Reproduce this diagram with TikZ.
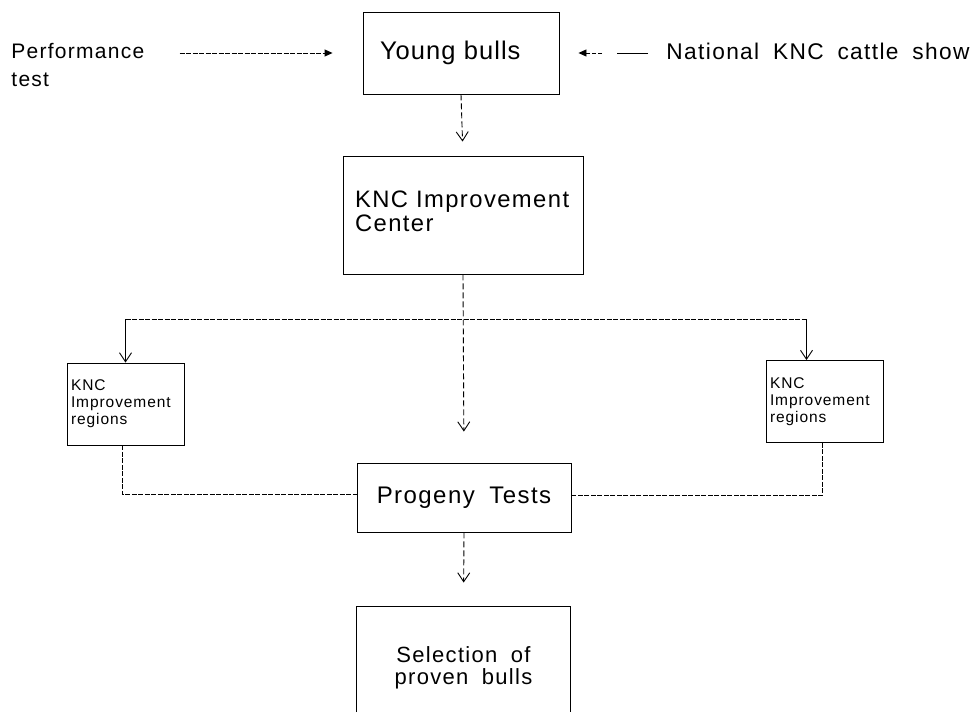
\documentclass[tikz,border=0pt]{standalone}
\usepackage{fontspec}
\setmainfont{Liberation Sans}
\newfontfamily\scanfont[LetterSpace=6,WordSpace=1.8]{Liberation Sans}
\newfontfamily\bigfont[LetterSpace=4,WordSpace=1.8]{Liberation Sans}
\usetikzlibrary{arrows.meta}

\begin{document}
\begin{tikzpicture}[x=1pt,y=-1pt,line width=0.9pt,
			big box/.style={rectangle,draw,inner sep=0pt},
			small box/.style={rectangle,draw,inner sep=0pt,minimum width=117pt,minimum height=82pt,
				text width=109pt,align=left,font=\scanfont\fontsize{15.5}{17}\selectfont},
			plain text/.style={inner sep=0pt},
			broken line/.style={dash pattern=on 5pt off 1.5pt},
			gap line/.style={dash pattern=on 6pt off 3pt},
			open tip/.style={-{Straight Barb[length=9pt,width=12pt]}},
			fill tip/.style={-{Triangle[length=8pt,width=7pt]}}]
			
			\useasboundingbox (0,0) rectangle (979,712);
			
			\node[big box,minimum width=196pt,minimum height=82pt,inner xsep=17pt,text width=162pt,align=left,
				font=\bigfont\fontsize{25.5}{28}\selectfont] (young) at (461,53) {Young bulls};
			\node[plain text,anchor=north west,align=left,font=\scanfont\fontsize{21}{28}\selectfont] (perf) at (11,43) {Performance\\test};
			\node[plain text,anchor=base west,font=\scanfont\fontsize{22.7}{26}\selectfont] (nat) at (666,59) {National KNC cattle show};
			\node[big box,minimum width=240pt,minimum height=118pt,text width=216pt,align=left,
				font=\scanfont\fontsize{23.8}{24}\selectfont] (center) at (463,215) {KNC Improvement\\Center\\[-16pt]\mbox{}};
			\node[small box] (leftreg) at (125.5,404) {KNC\\Improvement\\regions};
			\node[small box] (rightreg) at (824.5,401.5) {KNC\\Improvement\\regions};
			\node[big box,minimum width=214pt,minimum height=69pt,font=\scanfont\fontsize{24}{28}\selectfont] (progeny) at (464,497.5) {Progeny Tests};
			\node[plain text,minimum width=213pt,minimum height=122pt,align=center,
				font=\scanfont\fontsize{22}{22}\selectfont] (select) at (463.5,668) {Selection of\\proven bulls};
			
			\coordinate (bottom) at (0,712);
			\coordinate (branch) at (462,319);
			\coordinate (selBL) at (select.west |- bottom);
			\coordinate (selBR) at (select.east |- bottom);
			
			% inputs of the young bulls
			\draw[broken line,fill tip,shorten <=35pt,shorten >=30pt] (perf.east |- young.west) -- (young.west);
			\draw[fill tip,dash pattern=on 31pt off 15pt on 4pt off 2pt on 4pt off 2pt on 4pt off 2pt on 6pt,
				shorten <=18pt,shorten >=19pt] (nat.west |- young.east) -- (young.east);
			
			% main line
			\draw[gap line,open tip,shorten >=14pt] (young.south) -- (center.north);
			\draw[gap line,open tip,shorten >=31pt] (center.south) -- (progeny.north);
			\draw[gap line,open tip,shorten >=24pt] (progeny.south) -- (select.north);
			
			% branches
			\draw[broken line] (branch -| leftreg.north) -- ([xshift=-18pt]branch -| rightreg.north);
			\draw[open tip] (branch -| leftreg.north) -- (leftreg.north);
			\draw[open tip] ([xshift=-18pt]branch -| rightreg.north) -- ([xshift=-18pt]rightreg.north);
			\draw[broken line] ([xshift=-3pt]leftreg.south) |- ([yshift=3pt]progeny.west);
			\draw[broken line] ([xshift=-2pt]rightreg.south) |- ([yshift=2pt]progeny.east);
			
			\draw (selBL) |- (select.north) -| (selBR);
			\end{tikzpicture}
\end{document}
